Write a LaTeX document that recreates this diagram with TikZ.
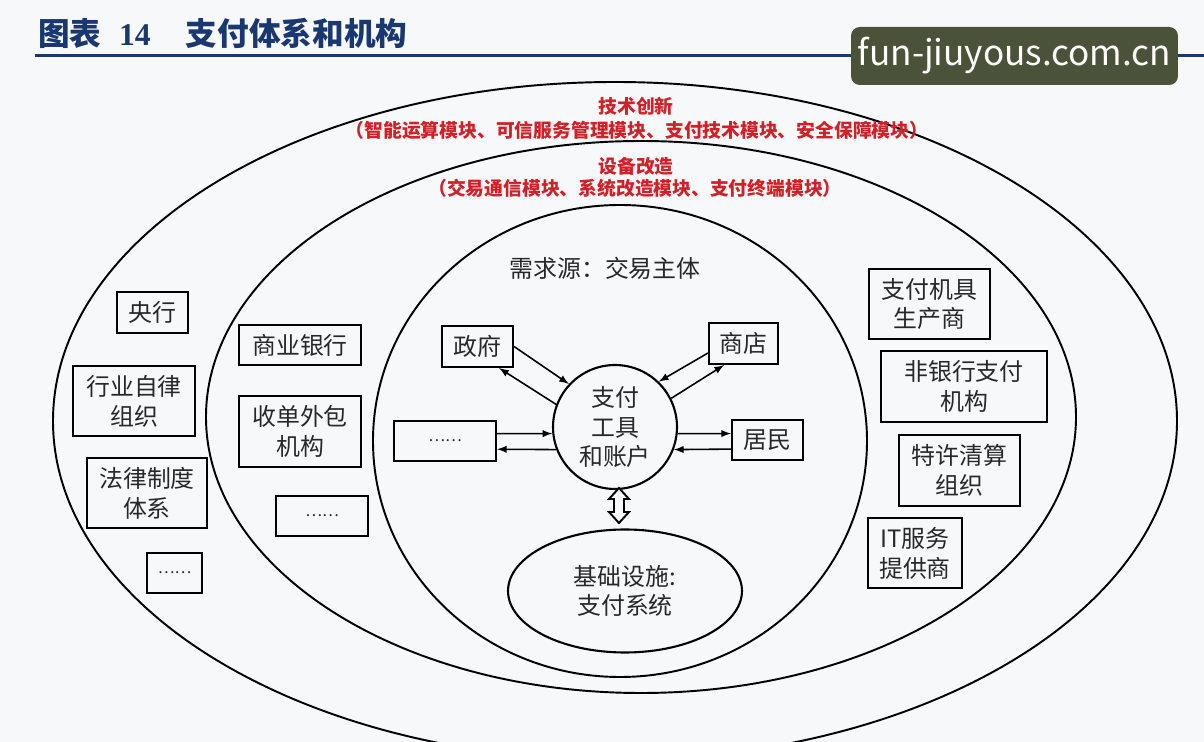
\documentclass[tikz,border=0pt]{standalone}
\usepackage{fontspec}
\setmainfont{Noto Sans CJK SC}
\newfontfamily\titlenum{Liberation Serif}
\usetikzlibrary{shapes.geometric,arrows.meta}
\definecolor{titleblue}{RGB}{26,56,112}
\definecolor{modred}{RGB}{208,32,40}
\definecolor{wmark}{RGB}{74,83,57}
\definecolor{bgpaper}{RGB}{247,248,250}
\definecolor{ink}{RGB}{40,40,40}
\newcommand{\boxfont}{\fontsize{13.6}{17}\selectfont}
\newcommand{\modfont}{\fontsize{10.7}{12}\selectfont\bfseries}
\newcommand{\titlefont}{\fontsize{18}{20}\selectfont\bfseries}
\newcommand{\dotsfont}{\fontsize{9}{10}\selectfont}

\begin{document}
\begin{tikzpicture}[x=0.02cm,y=-0.02cm,>=latex,
  every node/.style={text=ink,font=\boxfont,inner sep=0pt},
  ent/.style={draw=black,line width=1.2pt,align=center},
  ring/.style={draw=black,line width=1.1pt},
  flow/.style={->,line width=0.9pt},
  modtxt/.style={text=modred,font=\modfont}]
  \useasboundingbox[fill=bgpaper] (0,0) rectangle (1204,742);

  % heading
  \node[anchor=west,text=titleblue,font=\titlefont] (title) at (38,33)
    {图表\hspace{10pt}{\titlenum 14}\hspace{20pt}支付体系和机构};
  \draw[titleblue,line width=1.7pt] (35,56) -- (1204,56);
  \node[fill=wmark,rounded corners=5pt,minimum width=6.54cm,minimum height=1.16cm,
    text=white,font=\fontsize{20}{24}\selectfont] (wm) at (1014.5,56) {fun-jiuyous.com.cn};

  % the three rings
  \draw[ring] (615,421) ellipse [x radius=562,y radius=339];
  \draw[ring] (641,417) ellipse [x radius=435,y radius=276];
  \draw[ring] (620,441) ellipse [x radius=247,y radius=236];

  \node[modtxt] (tech) at (636,106) {技术创新};
  \node[modtxt] (techmods) at (637,130) {（智能运算模块、可信服务管理模块、支付技术模块、安全保障模块）};
  \node[modtxt] (equip) at (636,166) {设备改造};
  \node[modtxt] (equipmods) at (635,188) {（交易通信模块、系统改造模块、支付终端模块）};

  % core
  \node (demand) at (605,268) {需求源：交易主体};
  \node[draw=black,circle,line width=1.2pt,minimum size=2.48cm,align=center] (tool) at (615,427) {支付\\工具\\和账户};
  \node[draw=black,ellipse,line width=1.2pt,minimum width=4.68cm,minimum height=2.46cm,align=center] (infra) at (625,591) {基础设施:\\支付系统};

  \node[ent,minimum width=1.42cm,minimum height=0.82cm] (gov) at (477.5,346.5) {政府};
  \node[ent,minimum width=1.38cm,minimum height=0.82cm] (shop) at (743.5,343.5) {商店};
  \node[ent,minimum width=2.04cm,minimum height=0.80cm,font=\dotsfont] (dotsL) at (445,441) {……};
  \node[ent,minimum width=1.42cm,minimum height=0.80cm] (res) at (767.5,440) {居民};

  % outer ring
  \node[ent,minimum width=1.42cm,minimum height=0.82cm] (cbank) at (152.5,312.5) {央行};
  \node[ent,minimum width=2.44cm,minimum height=1.40cm] (selfreg) at (134,401) {行业自律\\组织};
  \node[ent,minimum width=2.40cm,minimum height=1.40cm] (law) at (147,493) {法律制度\\体系};
  \node[ent,minimum width=1.10cm,minimum height=0.80cm,font=\dotsfont] (dotsA) at (174.5,573) {……};

  % middle ring
  \node[ent,minimum width=2.44cm,minimum height=0.80cm] (bank) at (300,345) {商业银行};
  \node[ent,minimum width=2.44cm,minimum height=1.42cm] (acq) at (300,431.5) {收单外包\\机构};
  \node[ent,minimum width=1.84cm,minimum height=0.80cm,font=\dotsfont] (dotsB) at (322,516) {……};
  \node[ent,minimum width=2.42cm,minimum height=1.40cm] (mfr) at (929.5,304) {支付机具\\生产商};
  \node[ent,minimum width=3.32cm,minimum height=1.42cm] (nonbank) at (964,386.5) {非银行支付\\机构};
  \node[ent,minimum width=2.42cm,minimum height=1.42cm] (clear) at (959.5,470.5) {特许清算\\组织};
  \node[ent,minimum width=1.88cm,minimum height=1.40cm] (itsp) at (915,553) {IT服务\\提供商};

  \draw[flow] (gov.east) -- (tool.137);
  \draw[flow] (tool.159) -- (gov.-45);
  \draw[flow] (shop.195) -- (tool.46);
  \draw[flow] (tool.27) -- (shop.228);
  \draw[flow] (dotsL.8) -- (tool.186);
  \draw[flow] (tool.201) -- (dotsL.-9);
  \draw[flow] (tool.-6) -- (res.170);
  \draw[flow] (res.194) -- (tool.-21);

  % hollow two-way arrow between tool and infra
  \draw[line width=1.1pt,fill=bgpaper,line join=miter] (619,488) -- (629,499) -- (624,499) -- (624,512)
    -- (629,512) -- (619,523) -- (609,512) -- (614,512) -- (614,499) -- (609,499) -- cycle;
\end{tikzpicture}
\end{document}
